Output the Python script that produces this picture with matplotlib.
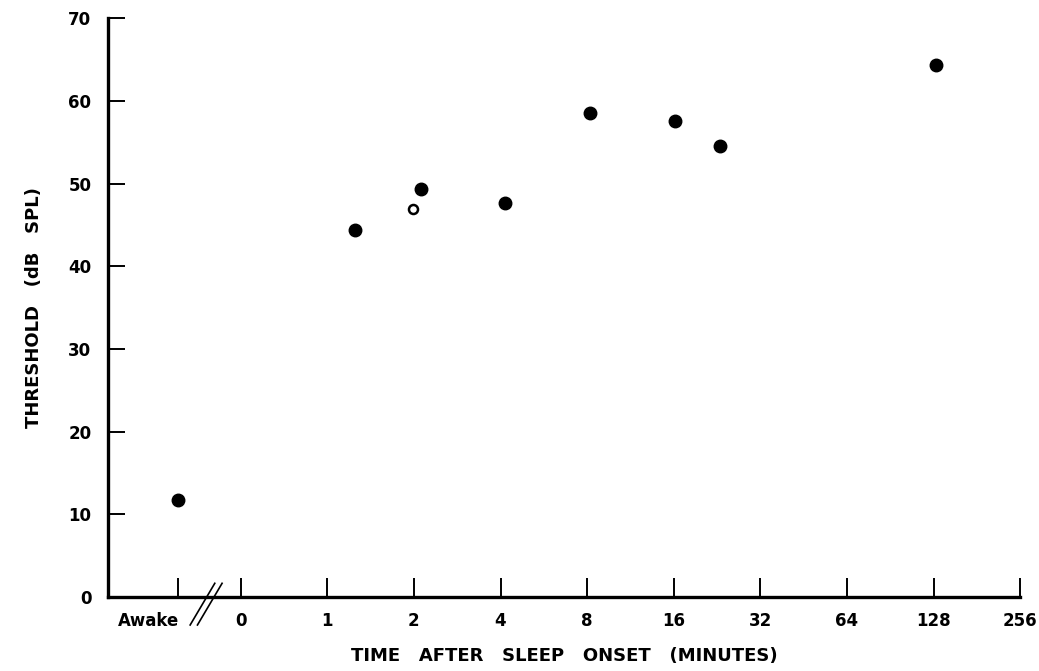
import numpy as np
import matplotlib.pyplot as plt
from matplotlib.transforms import ScaledTranslation

# threshold vs. time after sleep onset (minutes); x axis is log2,
# with the "0" tick sitting at 0.5 min and "Awake" placed left of it
tick_minutes = [0.5, 1, 2, 4, 8, 16, 32, 64, 128, 256]
tick_labels = ["0", "1", "2", "4", "8", "16", "32", "64", "128", "256"]

awake_x = 0.304
awake_threshold = 11.7

times = [1.25, 2.12, 4.16, 8.2, 16.1, 23.1, 130]
thresholds = [44.4, 49.4, 47.7, 58.5, 57.6, 54.6, 64.3]

open_times = [1.99]
open_thresholds = [46.9]

y_ticks = [0, 10, 20, 30, 40, 50, 60, 70]

plt.rcParams["font.family"] = ["DejaVu Sans"]

fig = plt.figure(figsize=(10.39, 6.71), dpi=100)
ax = fig.add_axes([0.104, 0.110, 0.878, 0.863])

ax.set_xscale("log", base=2)
ax.set_xlim(2 ** -2.53, 256)
ax.set_ylim(0, 70)

ax.plot([awake_x], [awake_threshold], "o", color="black", ms=9)
ax.plot(times, thresholds, "o", color="black", ms=9)
ax.plot(open_times, open_thresholds, "o", mfc="white", mec="black",
        mew=1.8, ms=6.5)

for side in ("top", "right"):
    ax.spines[side].set_visible(False)
for side in ("left", "bottom"):
    ax.spines[side].set_linewidth(2.4)

ax.set_xticks([awake_x] + tick_minutes)
ax.set_xticklabels(["Awake"] + tick_labels)
ax.xaxis.set_minor_locator(plt.NullLocator())
ax.set_yticks(y_ticks)
ax.tick_params(axis="both", direction="in", length=12, width=1.4,
               labelsize=12, pad=12)
ax.tick_params(axis="x", length=14, pad=11)
for lab in ax.get_xticklabels() + ax.get_yticklabels():
    lab.set_fontweight("bold")

# "Awake" label sits left of its tick, ending at the break
awake_lab = ax.get_xticklabels()[0]
awake_lab.set_transform(awake_lab.get_transform()
                        + ScaledTranslation(-0.3, 0, fig.dpi_scale_trans))

# axis break marks between Awake and 0
for x0, x1 in ((0.090, 0.117), (0.098, 0.125)):
    ax.plot([x0, x1], [-0.048, 0.024], transform=ax.transAxes,
            color="black", lw=1.2, clip_on=False)

ax.set_xlabel("TIME   AFTER   SLEEP   ONSET   (MINUTES)", fontsize=13,
              fontweight="bold", labelpad=12)
ax.set_ylabel("THRESHOLD   (dB   SPL)", fontsize=13, fontweight="bold",
              labelpad=18)

fig.savefig("out.png", dpi=100)
